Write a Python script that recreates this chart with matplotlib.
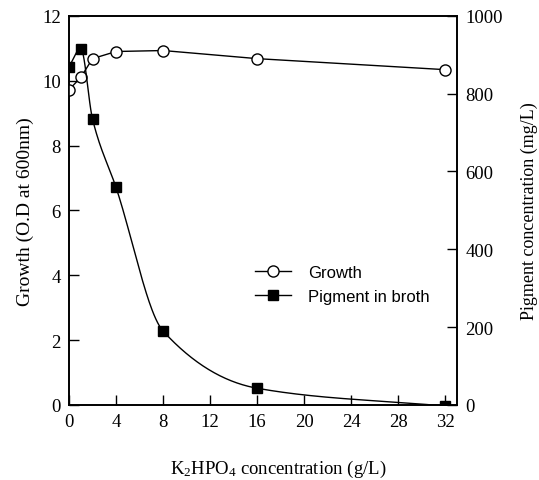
import numpy as np
import matplotlib
matplotlib.use('Agg')
from matplotlib import pyplot as plt

plt.rcParams['font.family'] = 'Liberation Serif'
plt.rcParams['mathtext.fontset'] = 'custom'
plt.rcParams['mathtext.rm'] = 'Liberation Serif'
plt.rcParams['mathtext.it'] = 'Liberation Serif'

# K2HPO4 dose (g/L)
conc = [0, 1, 2, 4, 8, 16, 32]
growth = [9.72, 10.1, 10.68, 10.9, 10.93, 10.68, 10.34]      # OD at 600 nm
pigment = [869, 916, 735, 559, 190, 43, -3]                 # mg/L

xticks = [0, 4, 8, 12, 16, 20, 24, 28, 32]


def pchip(x, y, xs):
    # monotone cubic so the pigment curve doesn't overshoot
    x = np.asarray(x, float)
    y = np.asarray(y, float)
    h = np.diff(x)
    d = np.diff(y) / h
    m = np.zeros_like(y)
    for k in range(1, len(x) - 1):
        if d[k - 1] * d[k] > 0:
            w1 = 2 * h[k] + h[k - 1]
            w2 = h[k] + 2 * h[k - 1]
            m[k] = (w1 + w2) / (w1 / d[k - 1] + w2 / d[k])
    m[0], m[-1] = d[0], d[-1]
    i = np.clip(np.searchsorted(x, xs) - 1, 0, len(h) - 1)
    t = (xs - x[i]) / h[i]
    h00 = 2 * t**3 - 3 * t**2 + 1
    h10 = t**3 - 2 * t**2 + t
    h01 = -2 * t**3 + 3 * t**2
    h11 = t**3 - t**2
    return h00 * y[i] + h10 * h[i] * m[i] + h01 * y[i + 1] + h11 * h[i] * m[i + 1]


fig = plt.figure(figsize=(5.39, 4.81), dpi=100)
ax = fig.add_axes([0.128, 0.156, 0.72, 0.809])
ax2 = ax.twinx()

ax.plot(conc, growth, color='black', lw=1, marker='o', ms=8,
        mfc='white', mec='black', mew=1, zorder=3, label='Growth')

xs = np.linspace(conc[0], conc[-1], 400)
ax2.plot(xs, pchip(conc, pigment, xs), color='black', lw=1)
ax2.plot(conc, pigment, ls='none', marker='s', ms=7, color='black')

ax.set_xlim(0, 33)
ax.set_ylim(0, 12)
ax2.set_ylim(0, 1000)
ax.set_xticks(xticks)
ax.set_yticks(range(0, 13, 2))
ax2.set_yticks(range(0, 1001, 200))

for a in (ax, ax2):
    a.tick_params(direction='in', length=7, width=1, labelsize=13.5, pad=6)
    for s in a.spines.values():
        s.set_linewidth(1.2)

ax.set_xlabel(r'K$_2$HPO$_4$ concentration (g/L)', fontsize=13.5, labelpad=18)
ax.xaxis.set_label_coords(0.54, -0.135)
ax.set_ylabel('Growth (O.D at 600nm)', fontsize=14, labelpad=6)
ax2.set_ylabel('Pigment concentration (mg/L)', fontsize=13, labelpad=13)

# legend with both series
h1 = ax.lines[0]
h2 = plt.Line2D([], [], color='black', lw=1, marker='s', ms=7)
ax.legend([h1, h2], ['Growth', 'Pigment in broth'], loc='center left',
          bbox_to_anchor=(0.44, 0.31), frameon=False,
          prop={'family': 'Liberation Sans', 'size': 12},
          handlelength=2.2, handletextpad=1.0, labelspacing=0.55)

fig.savefig('out.png', dpi=100)
